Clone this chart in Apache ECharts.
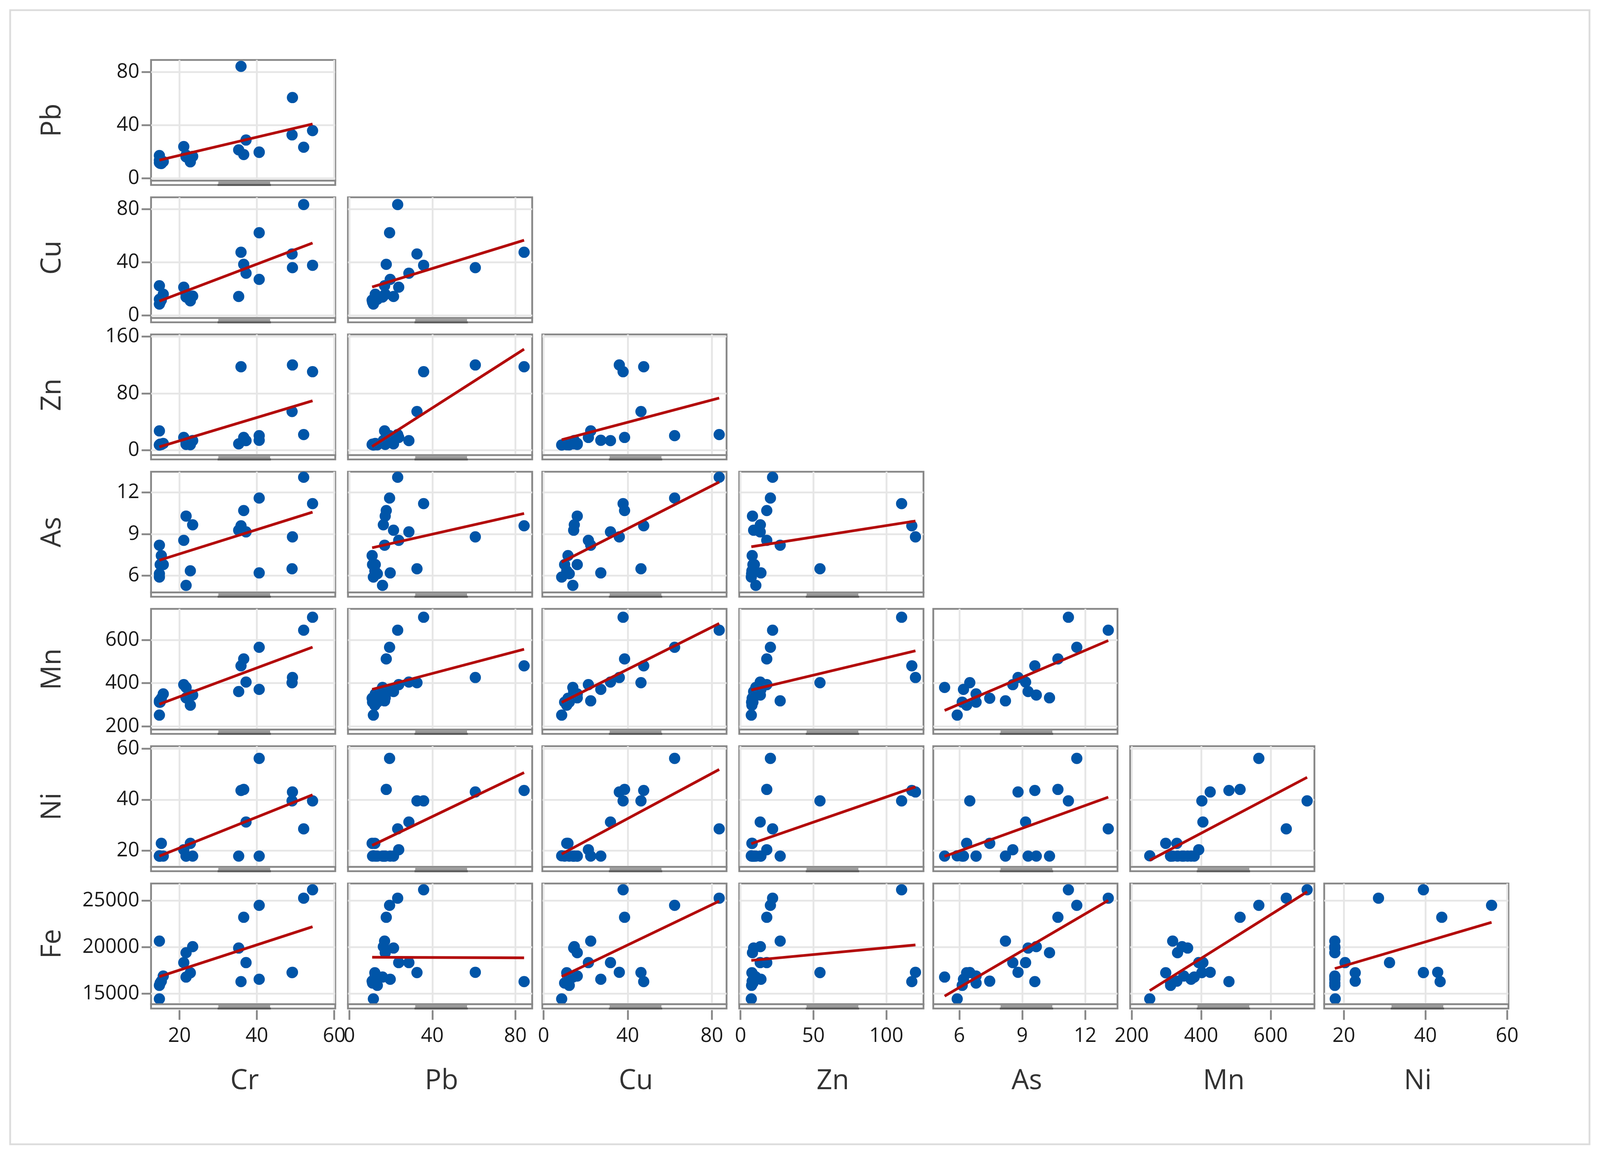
<!DOCTYPE html>
<html><head><meta charset="utf-8">
<script src="https://cdn.jsdelivr.net/npm/echarts@6.0.0/dist/echarts.min.js"></script>
<style>html,body{margin:0;padding:0;background:#fff;overflow:hidden}#c{width:100vw;height:100vh}</style>
</head><body><div id="c"></div>
<script>
// ---- data (21 samples) ----
const variables = ['Cr','Pb','Cu','Zn','As','Mn','Ni','Fe'];
const Cr = [54.4, 52.1, 40.6, 36.6, 35.9, 49.2, 49.1, 40.6, 14.8, 35.3, 37.2, 21.7, 21.7, 23.4, 21.1, 22.8, 14.8, 15.3, 15.8, 14.8, 15.0];
const Pb = [35.8, 23.3, 19.4, 17.8, 84.2, 60.7, 32.6, 19.7, 17.0, 21.3, 28.7, 16.0, 17.3, 16.4, 23.8, 12.3, 11.6, 11.0, 12.5, 13.5, 11.2];
const Cu = [37.8, 83.5, 62.3, 38.5, 47.6, 36.0, 46.3, 27.2, 22.4, 14.3, 31.8, 13.9, 16.0, 14.6, 21.3, 11.0, 8.6, 11.6, 16.0, 12.2, 10.0];
const Zn = [110.5, 22.0, 20.5, 18.0, 117.5, 120.0, 54.5, 14.0, 27.2, 9.0, 13.5, 10.5, 8.2, 13.6, 18.0, 7.8, 7.4, 8.0, 9.5, 7.6, 8.5];
const As = [11.2, 13.1, 11.6, 10.7, 9.6, 8.8, 6.5, 6.2, 8.2, 9.28, 9.16, 5.3, 10.3, 9.67, 8.55, 6.35, 5.9, 7.45, 6.8, 6.14, 6.8];
const Mn = [705, 645, 566, 512, 480, 426, 402, 371, 318, 361, 405, 380, 332, 345, 393, 298, 252, 330, 350, 312, 312];
const Ni = [39.5, 28.5, 56.2, 44.0, 43.6, 43.0, 39.5, 17.8, 17.8, 17.8, 31.2, 17.8, 17.8, 17.8, 20.3, 22.8, 17.9, 22.8, 17.8, 17.8, 17.8];
const Fe = [26150, 25250, 24480, 23200, 16300, 17300, 17270, 16550, 20650, 19900, 18340, 16790, 19400, 20050, 18340, 17250, 14450, 16350, 16900, 15900, 16150];

// ---- tick labels ----
const xTicks = { Cr:[20,40,60], Pb:[0,40,80], Cu:[0,40,80], Zn:[0,50,100], As:[6,9,12], Mn:[200,400,600], Ni:[20,40,60] };
const yTicks = { Pb:[0,40,80], Cu:[0,40,80], Zn:[0,80,160], As:[6,9,12], Mn:[200,400,600], Ni:[20,40,60], Fe:[15000,20000,25000] };
// axis extents
const xRange = { Cr:[12.64,60.27], Pb:[-0.65,88.1], Cu:[-0.6,87.0], Zn:[-0.87,125.5], As:[4.76,13.54], Mn:[195.7,726], Ni:[15.2,60.33] };
const yRange = { Pb:[-1.9,89], Cu:[-1.9,89], Zn:[-6.9,163], As:[4.79,13.5], Mn:[185,743.8], Ni:[13.55,61], Fe:[13877,26822] };

const dataOf = { Cr, Pb, Cu, Zn, As, Mn, Ni, Fe };

// ---- layout (designed for 4412 x 2959, scaled to the actual viewport) ----
const VW = window.innerWidth || 4412, VH = window.innerHeight || 2959;
const sx = VW / 4412, sy = VH / 2959, sf = Math.min(sx, sy);
const X = v => v * sx, Y = v => v * sy, F = v => v * sf;
const colLeft = [414, 957, 1493, 2036, 2571, 3114, 3649];
const rowTop = [151, 502.5, 853.5, 1205, 1556, 1907.5, 2259];
const GW = 508, GH = 309;
const FONT = '"Open Sans", "Noto Sans", sans-serif';
const frameColor = '#878787';
const fmt = v => String(v);

function regression(xs, ys) {
  const n = xs.length;
  let mx = 0, my = 0;
  for (let i = 0; i < n; i++) { mx += xs[i]; my += ys[i]; }
  mx /= n; my /= n;
  let sxy = 0, sxx = 0;
  for (let i = 0; i < n; i++) { sxy += (xs[i]-mx)*(ys[i]-my); sxx += (xs[i]-mx)*(xs[i]-mx); }
  const b = sxy / sxx, a = my - b*mx;
  const x0 = Math.min(...xs), x1 = Math.max(...xs);
  return [[x0, a + b*x0], [x1, a + b*x1]];
}

const option = { animation: false, backgroundColor: '#ffffff', grid: [], xAxis: [], yAxis: [], series: [] };
const g = [];
g.push({ type:'rect', shape:{ x:X(28), y:Y(26), width:X(4355), height:Y(2903) }, style:{ fill:'none', stroke:'#dcdcdc', lineWidth:F(5) }, z:1 });

for (let i = 0; i < 7; i++) {
  const yv = variables[i+1];
  for (let j = 0; j <= i; j++) {
    const xv = variables[j];
    const idx = option.grid.length;
    const left = colLeft[j] + 2.5, top = rowTop[i] + 2.5;
    option.grid.push({ left: X(left), top: Y(top), width: X(GW), height: Y(GH), show: true, borderColor: frameColor, borderWidth: F(5), backgroundColor: '#fff', containLabel: false, outerBoundsMode: 'none' });
    const bottomRow = (i === 6), firstCol = (j === 0);
    option.xAxis.push({
      type: 'value', gridIndex: idx, min: xRange[xv][0], max: xRange[xv][1], offset: Y(15),
      axisLine: { show: false },
      axisTick: { show: bottomRow, customValues: xTicks[xv], length: Y(25), lineStyle: { color: frameColor, width: F(5) } },
      axisLabel: { show: bottomRow, customValues: xTicks[xv], formatter: fmt, margin: Y(41), fontSize: F(55), fontFamily: FONT, color: '#1a1a1a' },
      splitLine: { show: true, lineStyle: { color: '#e6e6e6', width: F(5) } }
    });
    option.yAxis.push({
      type: 'value', gridIndex: idx, min: yRange[yv][0], max: yRange[yv][1],
      axisLine: { show: false },
      axisTick: { show: firstCol, customValues: yTicks[yv], length: X(26), lineStyle: { color: frameColor, width: F(5) } },
      axisLabel: { show: firstCol, customValues: yTicks[yv], formatter: fmt, margin: X(32), fontSize: F(55), fontFamily: FONT, color: '#1a1a1a' },
      splitLine: { show: true, lineStyle: { color: '#e6e6e6', width: F(5) } }
    });
    const xs = dataOf[xv], ys = dataOf[yv];
    option.series.push({
      type: 'scatter', xAxisIndex: idx, yAxisIndex: idx, silent: true,
      data: xs.map((x, k) => [x, ys[k]]), symbol: 'circle', symbolSize: F(31),
      itemStyle: { color: '#0055a8', opacity: 1 }, z: 3
    });
    option.series.push({
      type: 'line', xAxisIndex: idx, yAxisIndex: idx, silent: true,
      data: regression(xs, ys), showSymbol: false, symbol: 'none',
      lineStyle: { color: '#b30c0c', width: F(7.5) }, z: 4
    });
    // strip under plot area
    g.push({ type:'rect', shape:{ x: X(left), y: Y(rowTop[i]+311.5), width: X(GW), height: Y(11) }, style:{ fill:'#fff', stroke: frameColor, lineWidth:F(5) }, z: 10 });
    g.push({ type:'rect', shape:{ x: X(colLeft[j]+188), y: Y(rowTop[i]+314), width: X(143), height: Y(6) }, style:{ fill:'#9a9a9a' }, z: 11 });
    g.push({ type:'rect', shape:{ x: X(colLeft[j]+186), y: Y(rowTop[i]+320), width: X(147), height: Y(5) }, style:{ fill:'#5b5b5b' }, z: 11 });
  }
  // row title
  g.push({ type:'text', x: X(145), y: Y(rowTop[i] + 2.5 + GH/2), rotation: Math.PI/2,
    style:{ text: yv, fontSize: F(76), fontFamily: FONT, fill:'#333', textAlign:'center', textVerticalAlign:'middle' }, z: 12 });
}
for (let j = 0; j < 7; j++) {
  g.push({ type:'text', x: X(colLeft[j] + 2.5 + GW/2 + 4), y: Y(2768),
    style:{ text: variables[j], fontSize: F(76), fontFamily: FONT, fill:'#333', textAlign:'center', textVerticalAlign:'middle' }, z: 12 });
}
option.graphic = { elements: g };

const chart = echarts.init(document.getElementById('c'), null, { renderer: 'canvas' });
chart.setOption(option);
</script></body></html>
